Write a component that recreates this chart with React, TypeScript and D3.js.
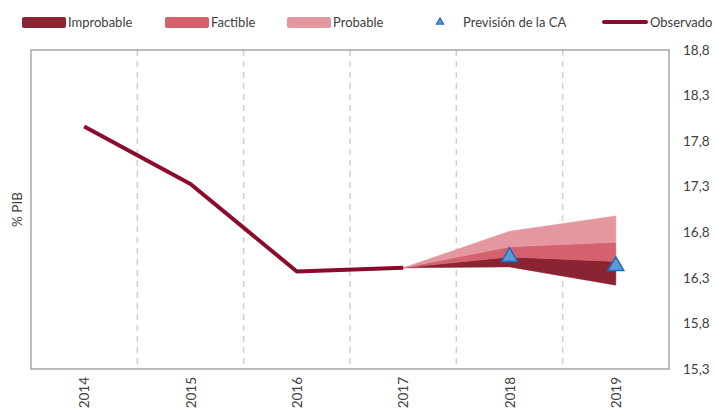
import { useEffect, useRef } from 'react'
import * as d3 from 'd3'

// Years on the x axis
const YEARS = ['2014', '2015', '2016', '2017', '2018', '2019']

// Observed series (% PIB)
const OBSERVED = [17.96, 17.33, 16.37, 16.41]

// Fan bands, for 2017-2019 (bottom to top edges)
const FAN_YEARS = ['2017', '2018', '2019']
const FAN_LOW = [16.41, 16.42, 16.22]
const FAN_A = [16.41, 16.53, 16.48]
const FAN_B = [16.41, 16.64, 16.69]
const FAN_HIGH = [16.41, 16.81, 16.98]

// Forecast of the CA
const FORECAST_YEARS = ['2018', '2019']
const FORECAST = [16.53, 16.43]

const Y_TICKS = [15.3, 15.8, 16.3, 16.8, 17.3, 17.8, 18.3, 18.8]

const COLORS = {
  improbable: '#8B2432',
  factible: '#D4616E',
  probable: '#E4979F',
  observed: '#8A0B2C',
  triFill: '#5B9BD5',
  triStroke: '#1F6BBF',
  frame: '#A6A6A6',
  grid: '#D0D0D0',
  text: '#404040',
}

const FONT = 'Lato, "Open Sans", sans-serif'

const App = () => {
  const svgRef = useRef<SVGSVGElement>(null)

  useEffect(() => {
    if (!svgRef.current) return
    const svg = d3.select(svgRef.current)
    svg.selectAll('*').remove()

    const left = 31
    const right = 669
    const top = 50
    const bottom = 369

    const x = d3.scaleBand().domain(YEARS).range([left, right])
    const cx = (yr: string) => (x(yr) || 0) + x.bandwidth() / 2
    const y = d3.scaleLinear().domain([15.3, 18.8]).range([bottom, top])

    // dashed vertical separators
    svg.append('g')
      .selectAll('line')
      .data(YEARS.slice(1))
      .enter()
      .append('line')
      .attr('x1', d => x(d) || 0)
      .attr('x2', d => x(d) || 0)
      .attr('y1', top)
      .attr('y2', bottom)
      .style('stroke', COLORS.grid)
      .style('stroke-width', 1.5)
      .style('stroke-dasharray', '6,5')

    // fan bands
    const bands = [
      { lo: FAN_LOW, hi: FAN_A, color: COLORS.improbable },
      { lo: FAN_A, hi: FAN_B, color: COLORS.factible },
      { lo: FAN_B, hi: FAN_HIGH, color: COLORS.probable },
    ]
    const area = d3.area<{ yr: string; lo: number; hi: number }>()
      .x(d => cx(d.yr))
      .y0(d => y(d.lo))
      .y1(d => y(d.hi))
    bands.forEach(b => {
      const data = FAN_YEARS.map((yr, i) => ({ yr, lo: b.lo[i], hi: b.hi[i] }))
      svg.append('path')
        .attr('d', area(data) || '')
        .style('fill', b.color)
        .style('stroke', b.color)
        .style('stroke-width', 0.5)
    })

    // observed line
    const line = d3.line<number>()
      .x((d, i) => cx(YEARS[i]))
      .y(d => y(d))
    svg.append('path')
      .attr('d', line(OBSERVED) || '')
      .style('fill', 'none')
      .style('stroke', COLORS.observed)
      .style('stroke-width', 4)
      .style('stroke-linejoin', 'round')

    // forecast triangles
    const tri = d3.symbol().type(d3.symbolTriangle).size(110)
    svg.append('g')
      .selectAll('path')
      .data(FORECAST)
      .enter()
      .append('path')
      .attr('d', tri() || '')
      .attr('transform', (d, i) => `translate(${cx(FORECAST_YEARS[i])}, ${y(d)})`)
      .style('fill', COLORS.triFill)
      .style('stroke', COLORS.triStroke)
      .style('stroke-width', 1.5)

    // frame
    svg.append('rect')
      .attr('x', left)
      .attr('y', top)
      .attr('width', right - left)
      .attr('height', bottom - top)
      .style('fill', 'none')
      .style('stroke', COLORS.frame)
      .style('stroke-width', 1.5)

    // right y axis labels
    svg.append('g')
      .selectAll('text')
      .data(Y_TICKS)
      .enter()
      .append('text')
      .attr('x', 683)
      .attr('y', d => y(d))
      .attr('dy', '0.35em')
      .text(d => d.toFixed(1).replace('.', ','))
      .style('font-family', FONT)
      .style('font-size', '13.5px')
      .style('fill', COLORS.text)

    // x labels (rotated)
    svg.append('g')
      .selectAll('text')
      .data(YEARS)
      .enter()
      .append('text')
      .attr('transform', d => `translate(${cx(d) + 5}, ${bottom + 8}) rotate(-90)`)
      .attr('text-anchor', 'end')
      .text(d => d)
      .style('font-family', FONT)
      .style('font-size', '13.5px')
      .style('fill', COLORS.text)

    // y axis title
    svg.append('text')
      .attr('transform', `translate(${22}, ${(top + bottom) / 2}) rotate(-90)`)
      .attr('text-anchor', 'middle')
      .text('% PIB')
      .style('font-family', FONT)
      .style('font-size', '13.5px')
      .style('fill', COLORS.text)

    // legend
    const legend = svg.append('g').style('font-family', FONT).style('font-size', '13px')
    const swatches = [
      { label: 'Improbable', color: COLORS.improbable, x: 22 },
      { label: 'Factible', color: COLORS.factible, x: 165 },
      { label: 'Probable', color: COLORS.probable, x: 287 },
    ]
    swatches.forEach(s => {
      legend.append('rect')
        .attr('x', s.x)
        .attr('y', 17)
        .attr('width', 44)
        .attr('height', 11)
        .attr('rx', 2)
        .style('fill', s.color)
      legend.append('text')
        .attr('x', s.x + 46)
        .attr('y', 22)
        .attr('dy', '0.35em')
        .text(s.label)
        .style('fill', COLORS.text)
    })
    legend.append('path')
      .attr('d', d3.symbol().type(d3.symbolTriangle).size(22)() || '')
      .attr('transform', 'translate(440, 22)')
      .style('fill', COLORS.triFill)
      .style('stroke', COLORS.triStroke)
      .style('stroke-width', 1.2)
    legend.append('text')
      .attr('x', 463)
      .attr('y', 22)
      .attr('dy', '0.35em')
      .text('Previsión de la CA')
      .style('fill', COLORS.text)
    legend.append('line')
      .attr('x1', 604)
      .attr('x2', 646)
      .attr('y1', 22)
      .attr('y2', 22)
      .style('stroke', COLORS.observed)
      .style('stroke-width', 4)
      .style('stroke-linecap', 'round')
    legend.append('text')
      .attr('x', 650)
      .attr('y', 22)
      .attr('dy', '0.35em')
      .text('Observado')
      .style('fill', COLORS.text)
  }, [])

  return (
    <svg
      ref={svgRef}
      width={715}
      height={414}
      style={{ position: 'absolute', left: 0, top: 0, background: '#fff' }}
    />
  )
}

export default App
